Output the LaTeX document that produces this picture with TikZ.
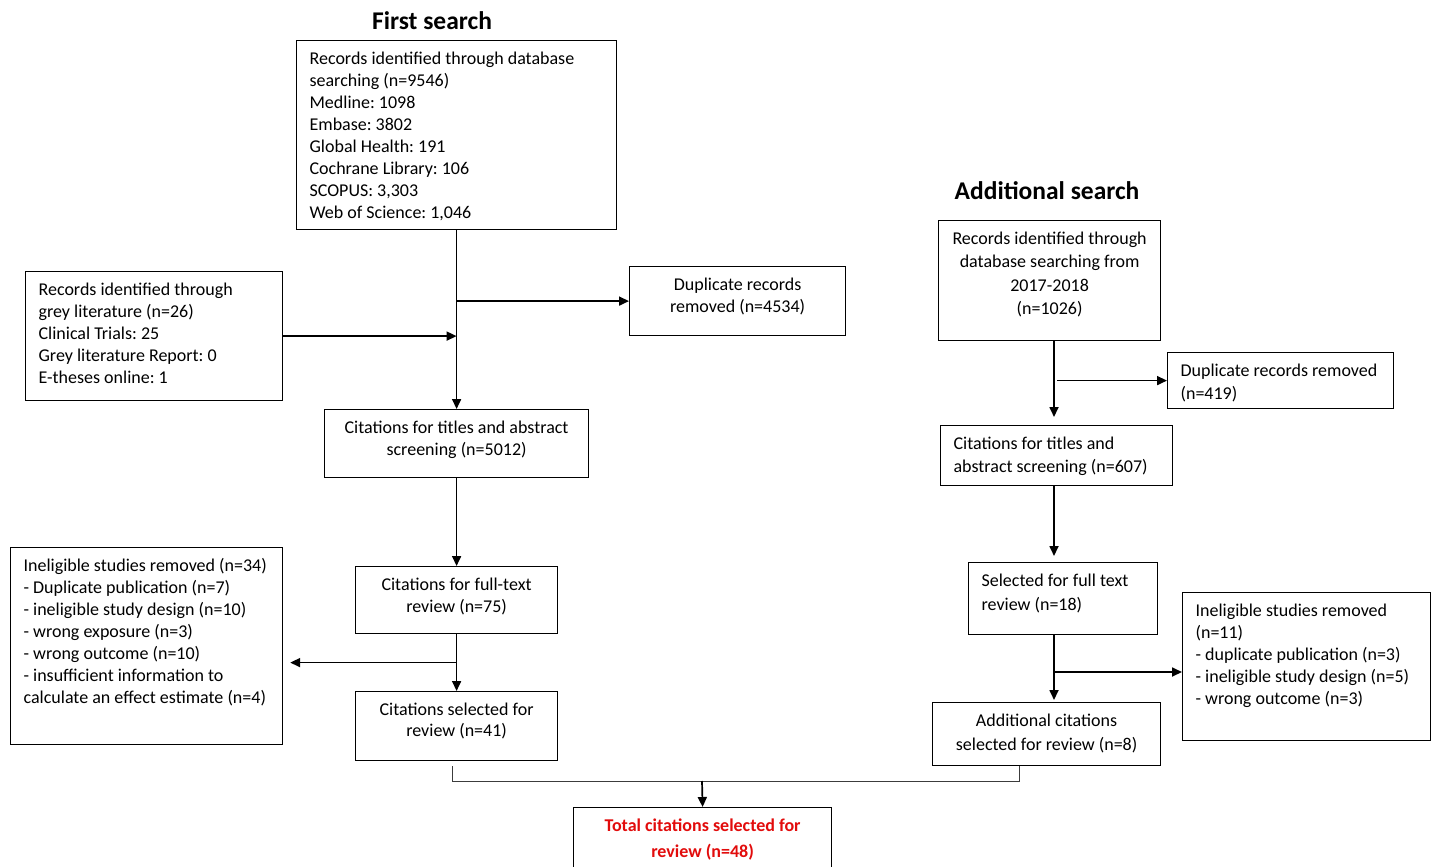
\documentclass[tikz,border=0pt]{standalone}
\usepackage{fontspec}
\setmainfont{Carlito}
\frenchspacing
\usetikzlibrary{arrows.meta,calc}
\definecolor{totred}{RGB}{226,12,12}
\definecolor{mergegray}{RGB}{60,60,60}
% #1 width, #2 height, #3 baselineskip, #4 alignment, #5 text
\newcommand\bt[5]{\parbox[c][#2pt][t]{\dimexpr#1pt-26pt\relax}{\fontsize{18}{#3}\selectfont\frenchspacing\vspace*{10.5pt}#4\rule{0pt}{13.5pt}#5}}
\tikzset{
  box/.style={draw, line width=1.2pt, inner xsep=13pt, inner ysep=0pt, anchor=north west},
  arr/.style={line width=1.7pt, -{Triangle[length=10pt,width=9pt]}},
  merge/.style={line width=1pt, draw=mergegray},
  heading/.style={font=\fontsize{25.5}{30}\selectfont\bfseries, inner sep=0pt}
}
\begin{document}
\begin{tikzpicture}[x=1pt,y=-1pt]
\fill[white] (0,0) rectangle (1432,867);
\useasboundingbox (0,0) rectangle (1432,867);

\node[heading] (t1) at (432,21) {First search};
\node[heading] (t2) at (1047,191) {Additional search};

% first search
\node[box] (dbA) at (296,40) {\bt{320}{189}{22}{\raggedright}{Records identified through database\\ searching (n=9546)\\ Medline: 1098\\ Embase: 3802\\ Global Health: 191\\ Cochrane Library: 106\\ SCOPUS: 3,303\\ Web of Science: 1,046}};
\node[box] (grey) at (25,271) {\bt{257}{129}{22}{\raggedright}{Records identified through\\ grey literature (n=26)\\ Clinical Trials: 25\\ Grey literature Report: 0\\ E-theses online: 1}};
\node[box] (dup1) at (629,266) {\bt{216}{69}{22}{\centering}{Duplicate records\\ removed (n=4534)}};
\node[box] (scr1) at (324,409) {\bt{264}{68}{22}{\centering}{Citations for titles and abstract\\ screening (n=5012)}};
\node[box] (full1) at (355,566) {\bt{202}{67}{22}{\centering}{Citations for full-text\\ review (n=75)}};
\node[box] (inel1) at (10,547) {\bt{272}{197}{22}{\raggedright}{Ineligible studies removed (n=34)\\ - Duplicate publication (n=7)\\ - ineligible study design (n=10)\\ - wrong exposure (n=3)\\ - wrong outcome (n=10)\\ - insufficient information to\\ calculate an effect estimate (n=4)}};
\node[box] (sel1) at (355,691) {\bt{202}{69}{21}{\centering}{Citations selected for\\ review (n=41)}};
\node[box] (total) at (573,807) {\bt{258}{80}{26}{\centering\color{totred}\bfseries}{Total citations selected for\\ review (n=48)}};

% additional search
\node[box] (addDB) at (938,220) {\bt{222}{120}{23.3}{\centering}{Records identified through\\ database searching from\\ 2017-2018\\ (n=1026)}};
\node[box] (dup2) at (1167,352) {\bt{226}{56}{23}{\raggedright}{Duplicate records removed\\ (n=419)}};
\node[box] (scr2) at (940,425) {\bt{232}{60}{23}{\raggedright}{Citations for titles and\\ abstract screening (n=607)}};
\node[box] (sel2) at (968,562) {\bt{189}{72}{24}{\raggedright}{Selected for full text\\ review (n=18)}};
\node[box] (inel2) at (1182,592) {\bt{248}{148}{22}{\raggedright}{Ineligible studies removed\\ (n=11)\\ - duplicate publication (n=3)\\ - ineligible study design (n=5)\\ - wrong outcome (n=3)}};
\node[box] (add8) at (932,702) {\bt{228}{63}{24}{\centering}{Additional citations\\ selected for review (n=8)}};

% connectors, first search
\draw[arr] (dbA.south) -- (scr1.north);
\draw[arr] (dbA.south |- dup1.west) -- (dup1.west);
\draw[arr] (grey.east) -- (grey.east -| dbA.south);
\draw[arr] (scr1.south) -- (full1.north);
\draw[arr] (full1.south) -- (sel1.north);
\coordinate (b1) at ($(full1.south)!.5!(sel1.north)$);
\draw[arr, shorten >=7pt] (b1) -- (b1 -| inel1.east);

% connectors, additional search
\coordinate (rx) at (1054,0);
\coordinate (b2) at (1054,672);
\draw[arr, shorten >=8pt] (addDB.south -| rx) -- (scr2.north -| rx);
\draw[arr, shorten <=3pt] (dup2.west -| rx) -- (dup2.west);
\draw[arr, shorten >=6pt] (scr2.south -| rx) -- (sel2.north -| rx);
\draw[arr, shorten >=2pt] (sel2.south -| rx) -- (add8.north -| rx);
\draw[arr] (b2) -- (b2 -| inel2.west);

% merge
\coordinate (mL) at (452,781);
\coordinate (mR) at (1019,781);
\coordinate (mC) at (702,781);
\draw[merge, shorten <=5pt] (sel1.south -| mL) -- (mL) -- (mR) -- (add8.south -| mR);
\draw[arr] (mC) -- (total.north);
\end{tikzpicture}
\end{document}
